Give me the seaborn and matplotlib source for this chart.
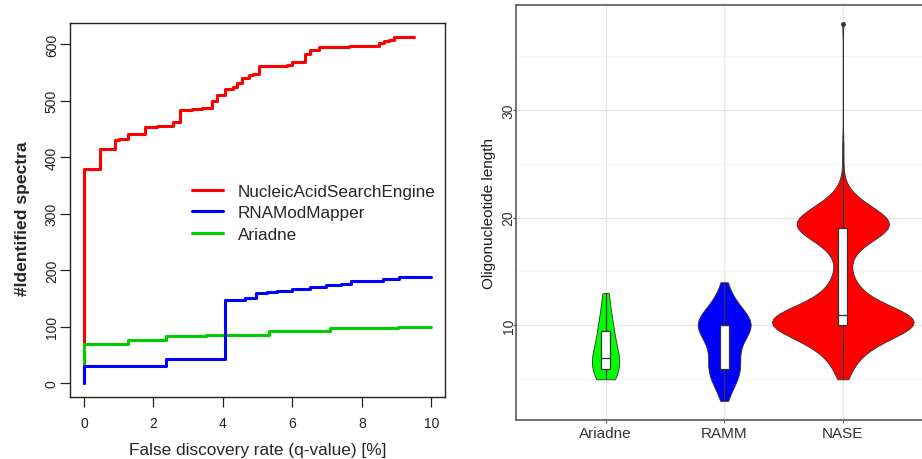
import numpy as np
import pandas as pd
import matplotlib
matplotlib.use("Agg")
import matplotlib.pyplot as plt
import seaborn as sns

# ---- left panel: identifications vs. FDR (step curves) ----
nase_q = [0, 0, 0.45, 0.89, 1.0, 1.27, 1.77, 2.09, 2.57, 2.76, 3.1, 3.39, 3.69, 3.84,
          4.05, 4.28, 4.42, 4.55, 4.74, 4.88, 5.05, 5.85, 5.99, 6.35, 6.52, 6.76,
          7.63, 8.48, 8.64, 8.79, 8.93, 9.51]
nase_n = [0, 379, 414, 430, 433, 441, 453, 455, 462, 483, 485, 487, 500, 510,
          520, 525, 532, 540, 546, 548, 561, 563, 568, 582, 590, 595,
          596, 603, 605, 608, 612, 612]

ramm_q = [0, 0, 2.36, 4.07, 4.64, 4.96, 5.27, 5.56, 5.99, 6.52, 6.96, 7.39, 7.68,
          8.62, 9.07, 10.0]
ramm_n = [0, 30, 42, 148, 150, 160, 162, 163, 166, 170, 173, 176, 181,
          185, 188, 188]

ariadne_q = [0, 0, 1.27, 2.35, 3.52, 5.32, 7.08, 9.03, 10.0]
ariadne_n = [0, 69, 77, 84, 86, 92, 97, 99, 99]

series_labels = ["NucleicAcidSearchEngine", "RNAModMapper", "Ariadne"]

# ---- right panel: oligonucleotide length distributions ----
tools = ["Ariadne", "RAMM", "NASE"]
ariadne_len = [5, 6, 7, 8, 9, 10, 11, 12, 13]
ariadne_cnt = [3, 3, 4, 2, 2, 2, 1, 1, 1]
ramm_len = [3, 4, 5, 6, 7, 8, 9, 10, 11, 12, 13, 14]
ramm_cnt = [1, 3, 7, 10, 6, 6, 7, 22, 10, 5, 3, 1]
nase_len = [5, 6, 7, 8, 9, 10, 11, 12, 13, 14, 15, 16, 17, 18, 19, 20, 21, 22,
            23, 25, 27, 38]
nase_cnt = [4, 8, 12, 22, 40, 70, 64, 26, 15, 10, 6, 5, 10, 22, 48, 40, 22, 8,
            2, 1, 1, 1]

sns.set_style("white")
plt.rcParams["font.family"] = ["Liberation Sans", "DejaVu Sans"]

RED, BLUE, GREEN_LINE, GREEN_FILL = "#FF0000", "#0000FF", "#00CD00", "#00FF00"
AXIS_DARK = "#222222"

fig = plt.figure(figsize=(9.22, 4.6), dpi=100)
ax1 = fig.add_axes([0.0759, 0.1348, 0.4071, 0.8130])
ax2 = fig.add_axes([0.5593, 0.0854, 0.4577, 0.9022])

# left panel curves (drawn red, green, blue so blue sits on top)
curves = {}
for name, q, n, col in [("NucleicAcidSearchEngine", nase_q, nase_n, RED),
                        ("Ariadne", ariadne_q, ariadne_n, GREEN_LINE),
                        ("RNAModMapper", ramm_q, ramm_n, BLUE)]:
    sns.lineplot(x=q, y=n, ax=ax1, color=col, linewidth=2.2, drawstyle="steps-post",
                 estimator=None, sort=False, legend=False)
    curves[name] = ax1.lines[-1]

ax1.set_xlim(-0.4, 10.4)
ax1.set_ylim(-24.5, 637.5)
ax1.set_xticks([0, 2, 4, 6, 8, 10])
ax1.set_yticks([0, 100, 200, 300, 400, 500, 600])
for sp in ax1.spines.values():
    sp.set_visible(True)
    sp.set_color(AXIS_DARK)
    sp.set_linewidth(1.0)
ax1.tick_params(axis="both", which="major", direction="out", length=7, width=0.9,
                color=AXIS_DARK, labelsize=10, labelcolor=AXIS_DARK)
ax1.tick_params(axis="x", pad=7)
ax1.tick_params(axis="y", pad=1)
ax1.tick_params(bottom=True, left=True)
for lab in ax1.get_yticklabels():
    lab.set_rotation(90)
    lab.set_va("center")
ax1.set_xlabel("False discovery rate (q-value) [%]", fontsize=12.4)
ax1.xaxis.set_label_coords(0.5, -0.12)
ax1.set_ylabel("#Identified spectra", fontsize=12.6, fontweight="bold")
ax1.yaxis.set_label_coords(-0.106, 0.48)

handles = [curves[name] for name in series_labels]
ax1.legend(handles, series_labels, loc="upper left", bbox_to_anchor=(0.325, 0.570),
           frameon=False, fontsize=12.3, handlelength=1.8, handletextpad=0.9,
           labelspacing=0.38, borderpad=0, borderaxespad=0)

# right panel violins
frames = []
for tool, lens, cnts in [("Ariadne", ariadne_len, ariadne_cnt),
                         ("RAMM", ramm_len, ramm_cnt),
                         ("NASE", nase_len, nase_cnt)]:
    frames.append(pd.DataFrame({"tool": tool, "length": np.repeat(lens, cnts)}))
df = pd.concat(frames, ignore_index=True)

violin_colors = [GREEN_FILL, BLUE, RED]
violin_widths = [0.23, 0.446, 1.196]
violin_bw = [0.9, 1.2, 0.72]
for tool, col, w, bw in zip(tools, violin_colors, violin_widths, violin_bw):
    sns.violinplot(data=df[df["tool"] == tool], x="tool", y="length", order=tools,
                   color=col, saturation=1, inner=None, cut=0, density_norm="width",
                   width=w, linewidth=0.6, linecolor="#333333", bw_adjust=bw, ax=ax2)

sns.boxplot(data=df, x="tool", y="length", order=tools, width=0.075, color="white",
            saturation=1, linecolor="#333333", linewidth=0.9, fliersize=2.5,
            showcaps=False,
            flierprops=dict(marker="o", markerfacecolor="#333333",
                            markeredgecolor="#333333"), ax=ax2)

ax2.set_xlim(-0.758, 2.8)
ax2.set_ylim(1.25, 39.75)
ax2.set_yticks([10, 20, 30])
ax2.set_yticks([5, 15, 25, 35], minor=True)
ax2.set_axisbelow(True)
ax2.grid(True, which="major", color="#E6E6E6", linewidth=0.9)
ax2.grid(True, which="minor", axis="y", color="#F2F2F2", linewidth=0.6)
for sp in ax2.spines.values():
    sp.set_visible(True)
    sp.set_color("#5A5A5A")
    sp.set_linewidth(1.2)
ax2.tick_params(axis="both", which="major", direction="out", length=2.5, width=0.8,
                color="#5A5A5A", labelcolor="#333333")
ax2.tick_params(axis="x", labelsize=11, pad=2, bottom=True)
ax2.tick_params(axis="y", labelsize=10, pad=-2.5, left=True)
ax2.tick_params(which="minor", length=0)
for lab in ax2.get_yticklabels():
    lab.set_rotation(90)
    lab.set_va("center")
ax2.set_xlabel("")
ax2.set_ylabel("Oligonucleotide length", fontsize=11, color="#1A1A1A")
ax2.yaxis.set_label_coords(-0.046, 0.5)

fig.savefig("out.png", dpi=100)
